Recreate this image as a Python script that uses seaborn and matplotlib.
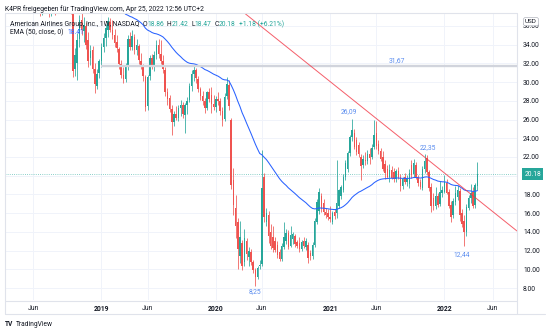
import matplotlib
matplotlib.use("Agg")
import matplotlib.pyplot as plt
import matplotlib.dates as mdates
from matplotlib.lines import Line2D
import numpy as np
import pandas as pd
import seaborn as sns

W, H = 550, 333

# Weekly closes before the drawn window (Jan 2017 - May 2018), used to seed the EMA
seed_closes = [
    46.7, 47.4, 46.0, 46.2, 45.0, 45.3, 46.0, 46.9, 46.4, 44.5,
    43.6, 41.6, 42.5, 42.0, 41.6, 41.0, 43.3, 43.5, 46.0, 46.2,
    48.4, 48.9, 48.5, 49.0, 49.1, 50.3, 52.1, 51.8, 52.5, 50.5,
    49.8, 49.5, 47.0, 44.6, 44.3, 43.8, 43.1, 45.5, 47.5, 48.6,
    48.8, 49.1, 47.6, 46.8, 47.2, 47.0, 47.8, 50.0, 51.0, 52.9,
    52.0, 52.0, 53.4, 55.5, 57.2, 56.5, 54.3, 51.5, 52.4, 53.8,
    54.2, 52.4, 54.0, 53.8, 51.8, 52.0, 49.5, 47.5, 44.2, 43.4,
    43.7, 44.6, 44.1, 44.8,
]

# Weekly OHLC, AAL, weeks starting 2018-06-04 through 2022-04-18
opens = [
    43.6, 42.8, 40.6, 39.2, 38.0, 39.5, 40.0, 39.0, 37.6, 38.9,
    38.2, 37.7, 39.3, 40.3, 40.0, 40.6, 41.6, 41.0, 37.6, 31.4,
    32.0, 34.6, 36.6, 35.5, 36.0, 34.5, 32.6, 33.4, 31.4, 29.6,
    31.0, 32.2, 33.8, 34.7, 35.6, 36.4, 35.6, 35.0, 34.3, 33.5,
    31.9, 30.8, 30.3, 31.7, 34.6, 33.8, 34.8, 33.4, 33.9, 32.3,
    31.7, 30.5, 27.4, 30.6, 32.6, 31.8, 32.9, 34.0, 33.0, 32.3,
    31.3, 28.9, 28.3, 27.1, 25.7, 26.6, 26.2, 27.2, 27.6, 26.5,
    27.5, 28.1, 29.6, 30.9, 31.3, 30.3, 29.3, 28.5, 28.0, 27.2,
    28.9, 28.6, 27.7, 27.3, 28.2, 28.0, 26.9, 26.1, 28.5, 29.7,
    26.0, 19.5, 16.6, 15.0, 11.4, 12.8, 10.8, 13.0, 11.3, 11.9,
    10.8, 9.9, 9.2, 10.3, 10.6, 19.9, 15.0, 15.8, 14.0, 13.5,
    13.0, 12.6, 11.9, 11.1, 12.4, 13.0, 13.9, 12.5, 13.2, 13.6,
    12.9, 12.8, 12.2, 13.0, 12.4, 12.6, 11.7, 11.4, 12.6, 15.1,
    16.2, 17.8, 17.1, 16.1, 16.0, 15.6, 15.0, 16.1, 16.0, 16.8,
    17.8, 18.5, 19.9, 20.7, 22.4, 24.1, 24.6, 23.8, 23.3, 22.0,
    21.1, 21.7, 21.6, 22.3, 22.0, 23.1, 24.6, 23.4, 22.6, 22.0,
    21.3, 20.7, 19.9, 20.6, 20.4, 19.6, 20.5, 19.9, 18.9, 19.9,
    19.3, 19.1, 21.1, 20.2, 21.1, 19.9, 19.3, 18.7, 20.7, 21.9,
    20.4, 18.8, 17.6, 16.8, 17.8, 17.0, 18.2, 18.3, 19.2, 18.3,
    16.9, 15.8, 17.2, 17.7, 18.4, 16.0, 15.2, 14.0, 16.6, 17.6,
    18.3, 16.9, 18.86,
]
highs = [
    44.5, 43.3, 41.2, 39.9, 39.6, 40.9, 41.0, 40.3, 39.4, 39.5,
    38.6, 39.5, 40.6, 41.2, 41.0, 42.0, 42.3, 41.6, 38.0, 33.6,
    35.2, 37.2, 37.8, 36.9, 36.4, 35.4, 34.0, 33.9, 32.0, 31.4,
    32.5, 34.2, 35.2, 36.2, 36.9, 36.8, 36.6, 35.7, 35.0, 33.8,
    32.4, 31.6, 32.0, 35.0, 35.3, 35.6, 35.1, 34.6, 34.1, 33.1,
    31.9, 30.8, 30.8, 32.9, 33.0, 33.3, 34.5, 34.6, 34.5, 32.9,
    31.6, 29.4, 28.6, 27.5, 26.9, 27.4, 27.6, 28.1, 27.9, 27.8,
    28.4, 29.9, 31.3, 31.7, 31.5, 30.7, 29.5, 29.0, 28.3, 29.1,
    29.4, 29.5, 28.6, 28.5, 28.9, 28.3, 27.3, 28.8, 30.5, 30.2,
    26.2, 20.8, 17.9, 15.5, 15.2, 13.1, 14.3, 13.3, 12.4, 12.2,
    11.0, 10.1, 10.4, 11.0, 22.7, 20.3, 16.5, 16.2, 14.8, 14.6,
    13.4, 13.0, 12.2, 12.8, 15.0, 14.3, 14.2, 14.6, 14.0, 13.8,
    13.1, 13.4, 13.1, 13.4, 13.3, 12.9, 12.1, 12.9, 15.5, 17.5,
    18.7, 18.1, 17.5, 16.5, 16.4, 16.8, 16.2, 16.4, 21.7, 18.6,
    19.0, 20.2, 21.7, 22.6, 24.3, 26.09, 25.0, 24.1, 23.6, 22.3,
    22.2, 22.5, 22.7, 23.0, 23.4, 26.0, 25.8, 23.8, 23.0, 22.6,
    21.7, 21.1, 21.2, 21.0, 20.8, 20.7, 20.9, 20.2, 19.9, 20.3,
    20.1, 20.7, 21.7, 21.8, 21.5, 20.1, 19.6, 21.0, 22.35, 22.2,
    20.6, 19.2, 18.1, 18.8, 18.1, 19.4, 18.9, 20.1, 19.6, 18.6,
    17.3, 17.6, 18.9, 19.0, 18.7, 16.4, 15.8, 17.0, 17.9, 19.1,
    18.8, 19.2, 21.42,
]
lows = [
    42.0, 40.2, 38.5, 37.1, 37.2, 38.9, 38.6, 36.9, 37.1, 37.5,
    37.2, 37.4, 38.8, 39.3, 39.5, 40.1, 40.8, 37.3, 30.5, 30.6,
    30.2, 33.8, 35.0, 34.3, 33.5, 31.6, 31.8, 31.0, 28.8, 29.3,
    30.4, 31.6, 33.2, 33.9, 34.8, 35.3, 34.6, 33.8, 33.2, 31.4,
    30.4, 29.9, 30.0, 31.3, 33.4, 33.4, 33.0, 32.9, 31.9, 31.4,
    30.1, 26.9, 27.0, 30.2, 31.4, 31.2, 32.5, 32.6, 31.9, 31.0,
    28.5, 27.6, 26.8, 24.3, 25.3, 25.9, 25.8, 26.4, 26.2, 24.6,
    26.6, 27.9, 29.1, 30.1, 29.9, 28.9, 28.1, 27.6, 26.7, 27.0,
    27.9, 26.7, 27.0, 26.8, 27.6, 26.5, 25.3, 25.8, 28.2, 27.0,
    18.6, 15.8, 13.3, 10.0, 10.7, 9.9, 10.4, 11.0, 10.4, 10.5,
    9.6, 8.25, 9.0, 10.0, 10.4, 15.0, 14.6, 12.8, 12.2, 11.9,
    11.9, 11.2, 10.9, 10.9, 12.2, 12.7, 12.2, 12.4, 12.7, 12.4,
    12.3, 11.9, 12.0, 12.3, 12.1, 10.7, 11.0, 11.1, 12.4, 14.8,
    15.9, 16.1, 15.8, 15.5, 15.3, 15.0, 14.8, 15.4, 15.5, 16.5,
    17.5, 18.3, 19.5, 20.4, 22.1, 23.7, 22.9, 22.2, 22.0, 19.5,
    20.8, 21.1, 21.3, 21.2, 21.8, 22.9, 22.9, 22.3, 21.6, 20.5,
    19.6, 19.7, 19.3, 19.6, 19.3, 19.3, 19.6, 18.4, 18.6, 19.1,
    18.9, 18.7, 19.8, 19.9, 19.6, 18.9, 18.6, 18.5, 20.3, 20.1,
    18.4, 16.1, 16.3, 16.4, 16.7, 16.8, 17.7, 18.1, 18.0, 16.5,
    15.0, 15.5, 16.9, 17.4, 15.2, 14.5, 12.44, 13.6, 16.3, 17.1,
    16.5, 16.6, 18.47,
]
closes = [
    42.7, 40.7, 39.3, 38.0, 39.4, 39.9, 39.0, 37.6, 38.9, 38.2,
    37.7, 39.2, 40.4, 40.0, 40.5, 41.7, 41.3, 37.8, 31.2, 32.9,
    34.5, 36.6, 35.6, 36.1, 34.0, 32.3, 33.3, 31.4, 29.8, 30.9,
    32.2, 33.8, 34.7, 35.8, 36.5, 35.6, 35.0, 34.2, 33.6, 31.9,
    30.8, 30.3, 31.6, 34.6, 33.8, 34.9, 33.4, 34.0, 32.4, 31.8,
    30.6, 27.3, 30.5, 32.6, 31.8, 32.9, 34.0, 33.0, 32.3, 31.4,
    28.9, 28.2, 27.1, 25.7, 26.6, 26.2, 27.2, 27.6, 26.6, 27.5,
    28.0, 29.6, 30.9, 31.3, 30.4, 29.3, 28.5, 28.0, 27.2, 28.9,
    28.2, 27.7, 27.3, 28.2, 28.0, 26.9, 26.0, 28.4, 29.8, 27.4,
    19.0, 16.9, 14.6, 12.2, 13.4, 10.3, 13.3, 11.6, 12.0, 10.8,
    9.9, 9.2, 10.1, 10.5, 18.7, 15.6, 16.0, 13.6, 12.5, 12.3,
    12.1, 11.5, 11.1, 12.5, 13.4, 13.9, 12.4, 13.7, 13.8, 12.7,
    12.5, 12.2, 12.9, 12.5, 13.0, 11.2, 11.4, 12.6, 15.2, 17.2,
    18.3, 16.4, 16.1, 15.8, 15.6, 15.4, 16.0, 15.7, 17.1, 18.5,
    18.8, 19.9, 21.4, 22.4, 24.1, 24.9, 23.1, 22.5, 22.3, 21.0,
    21.8, 21.6, 22.3, 21.9, 23.0, 24.4, 23.2, 22.6, 21.8, 20.7,
    20.3, 19.9, 20.6, 19.8, 19.6, 20.5, 19.8, 18.9, 19.6, 19.3,
    19.7, 20.3, 20.1, 21.4, 19.9, 19.2, 18.8, 20.7, 21.6, 20.4,
    18.7, 16.8, 16.8, 17.8, 16.9, 18.3, 18.5, 19.3, 18.2, 16.8,
    15.6, 17.3, 18.2, 18.5, 15.8, 14.8, 14.0, 16.7, 17.6, 18.2,
    16.8, 19.0, 20.18,
]

seed_start = "2017-01-02"
first_week = "2018-06-04"
ema_length = 50

# Horizontal level and falling trendline drawings
level_price = 31.67
level_from = "2019-01-07"
trend_dates = ["2020-09-30", "2022-06-29"]
trend_prices = [32.63, 15.54]

price_ticks = [8, 10, 12, 14, 16, 18, 20, 22, 24, 26, 28, 30, 32, 34, 36]
time_tick_dates = ["2018-06-04", "2019-01-07", "2019-06-03", "2020-01-06", "2020-06-01",
                   "2021-01-04", "2021-05-31", "2022-01-03", "2022-06-06"]
time_tick_labels = ["Jun", "2019", "Jun", "2020", "Jun", "2021", "Jun", "2022", "Jun"]

TEAL = "#26a69a"
RED = "#ef5350"
BLUE = "#2962ff"
MARK_BLUE = "#5b8def"
TXT = "#131722"
GRID = "#f0f3fa"
FRAME = "#e0e3eb"

sns.set_theme(style="white")
plt.rcParams["font.family"] = ["Roboto", "DejaVu Sans"]

fig = plt.figure(figsize=(W / 100, H / 100), dpi=100)
fig.patch.set_facecolor("white")
ax = fig.add_axes([5 / W, 1 - 300 / H, 512 / W, 287 / H])
ax.set_facecolor("white")

o = np.array(opens)
h = np.array(highs)
l = np.array(lows)
c = np.array(closes)
dates = pd.date_range(first_week, periods=len(c), freq="7D")
x = mdates.date2num(dates)

# EMA over the full close history
all_closes = pd.Series(seed_closes + closes)
ema = all_closes.ewm(span=ema_length, adjust=False).mean().to_numpy()
ema_dates = pd.date_range(seed_start, periods=len(all_closes), freq="7D")

ax.set_xlim(mdates.date2num(pd.Timestamp("2018-03-06")), mdates.date2num(pd.Timestamp("2022-08-22")))
ax.set_ylim(6.72, 37.38)

# grid
ax.set_axisbelow(True)
ax.set_yticks(price_ticks)
ax.set_xticks(mdates.date2num(pd.to_datetime(time_tick_dates)))
ax.grid(True, color=GRID, linewidth=0.7)

# candles
up = c >= o
colors = np.where(up, TEAL, RED)
ax.vlines(x, l, h, colors=colors, linewidth=0.55, zorder=3)
body_low = np.minimum(o, c)
body_h = np.maximum(np.abs(c - o), 0.07)
ax.bar(x, body_h, bottom=body_low, width=4.8, color=colors, linewidth=0, zorder=4)

# EMA line
sns.lineplot(x=mdates.date2num(ema_dates), y=ema, color=BLUE, linewidth=0.75,
             ax=ax, zorder=5, legend=False)

# drawings
ax.hlines(level_price, mdates.date2num(pd.Timestamp(level_from)), ax.get_xlim()[1],
          color="#d1d4dc", linewidth=1.7, zorder=6)
ax.axline((mdates.date2num(pd.Timestamp(trend_dates[0])), trend_prices[0]),
          (mdates.date2num(pd.Timestamp(trend_dates[1])), trend_prices[1]),
          color="#f23645", linewidth=0.7, alpha=0.8, zorder=6)

# last price line
last_close = closes[-1]
ax.axhline(last_close, color=TEAL, linewidth=0.6, linestyle=(0, (1, 1.6)), alpha=0.7, zorder=2)

# value marks
mk = dict(textcoords="offset points", ha="center", color=MARK_BLUE, fontsize=4.9, zorder=7)
i_hi1 = int(np.argmax(h[130:160])) + 130
ax.annotate(f"{h[i_hi1]:.2f}".replace(".", ","), xy=(x[i_hi1], h[i_hi1]), xytext=(-2, 2.5), va="bottom", **mk)
i_hi2 = int(np.argmax(h[170:190])) + 170
ax.annotate(f"{h[i_hi2]:.2f}".replace(".", ","), xy=(x[i_hi2], h[i_hi2]), xytext=(2.5, 1.5), va="bottom", **mk)
i_lo1 = int(np.argmin(l[90:120])) + 90
ax.annotate(f"{l[i_lo1]:.2f}".replace(".", ","), xy=(x[i_lo1], l[i_lo1]), xytext=(0, -1.5), va="top", **mk)
i_lo2 = int(np.argmin(l[180:])) + 180
ax.annotate(f"{l[i_lo2]:.2f}".replace(".", ","), xy=(x[i_lo2], l[i_lo2]), xytext=(-2, -3.5), va="top", **mk)
ax.annotate(f"{level_price:.2f}".replace(".", ","), xy=(mdates.date2num(pd.Timestamp("2021-08-05")), level_price),
            xytext=(0, 2.0), va="bottom", **mk)

# axes cosmetics
for s in ax.spines.values():
    s.set_visible(False)
ax.yaxis.tick_right()
# the 20.00 label sits under the last-price tag, so it is left blank
ax.set_yticklabels(["" if v == 20 else f"{v:.2f}" for v in price_ticks])
ax.set_xticklabels(time_tick_labels)
ax.tick_params(axis="y", length=0, pad=4.4, labelsize=4.9, labelcolor=TXT)
ax.tick_params(axis="x", length=0, pad=3.6, labelsize=4.9, labelcolor=TXT)
for lbl in ax.get_xticklabels():
    if lbl.get_text().isdigit():
        lbl.set_fontweight("bold")
ax.set_xlabel("")
ax.set_ylabel("")

# last price tag on the price scale
ax.annotate(f"{last_close:.2f}", xy=(1, last_close), xycoords=("axes fraction", "data"),
            xytext=(5.2, 0), textcoords="offset points", ha="left", va="center",
            color="white", fontsize=4.9, annotation_clip=False, zorder=8,
            bbox=dict(boxstyle="square,pad=0.3", fc=TEAL, ec="none"))


def fx(px):
    return px / W


def fy(py):
    return 1 - py / H


def line_px(x0, y0, x1, y1):
    fig.add_artist(Line2D([fx(x0), fx(x1)], [fy(y0), fy(y1)], transform=fig.transFigure,
                          color=FRAME, linewidth=0.8))


line_px(5, 13, 517, 13)
line_px(5, 13, 5, 314)
line_px(517, 13, 517, 314)
line_px(5, 300.5, 517, 300.5)
line_px(5, 314, 545, 314)

renderer = fig.canvas.get_renderer()


def text_run(x0, y0, pieces, size):
    cur = x0
    for piece in pieces:
        if isinstance(piece, (int, float)):
            cur += piece
            continue
        s, col = piece[0], piece[1]
        weight = piece[2] if len(piece) > 2 else "normal"
        t = fig.text(fx(cur), fy(y0), s, color=col, fontsize=size, ha="left", va="center",
                     fontweight=weight)
        bb = t.get_window_extent(renderer=renderer)
        cur = bb.x1


text_run(5, 8.7, [("K4PR freigegeben für TradingView.com, Apr 25, 2022 12:56 UTC+2", TXT)], 4.9)
text_run(10, 24, [("American Airlines Group, Inc., 1W, NASDAQ", TXT), 3,
                  ("O", TXT), ("18.86", TEAL), 3, ("H", TXT), ("21.42", TEAL), 3,
                  ("L", TXT), ("18.47", TEAL), 3, ("C", TXT), ("20.18", TEAL), 4,
                  ("+1.18 (+6.21%)", TEAL)], 4.9)
text_run(10, 32.5, [("EMA (50, close, 0)", TXT), 4, (f"{ema[-1]:.2f}", BLUE)], 4.9)

# currency tag
fig.text(fx(531), fy(21.7), "USD", fontsize=4.6, color=TXT, ha="center", va="center",
         bbox=dict(boxstyle="round,pad=0.25,rounding_size=0.3", fc="white", ec="#b2b5be", lw=0.5))

# footer logo
text_run(5, 324, [("TV", TXT, "bold"), 2.5, ("TradingView", TXT)], 4.8)

fig.savefig("out.png", dpi=100, facecolor="white")
